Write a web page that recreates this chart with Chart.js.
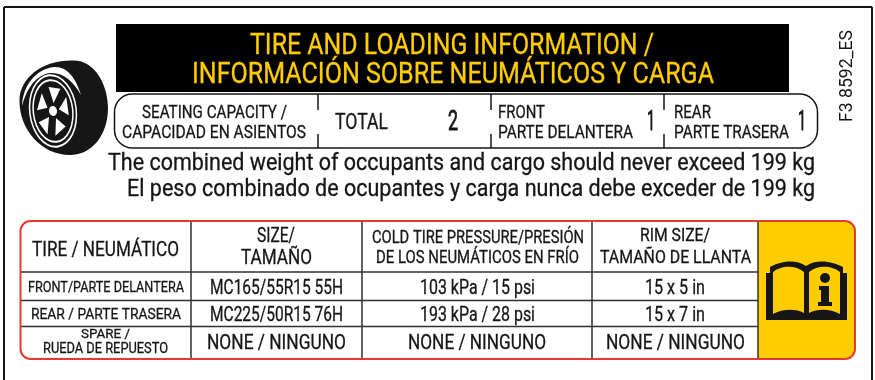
<!DOCTYPE html>
<html>
<head>
<meta charset="utf-8">
<style>
  html, body { margin: 0; padding: 0; background: #fff; }
  canvas { display: block; }
</style>
<script src="https://cdn.jsdelivr.net/npm/chart.js@4"></script>
</head>
<body>
<canvas id="tireLabel" width="875" height="380"></canvas>
<script>
// label content
const titleLines = ['TIRE AND LOADING INFORMATION /', 'INFORMACIÓN SOBRE NEUMÁTICOS Y CARGA'];
const partCode = 'F3 8592_ES';
const seatingLabel = ['SEATING CAPACITY /', 'CAPACIDAD EN ASIENTOS'];
const seatingParts = ['TOTAL', 'FRONT', 'PARTE DELANTERA', 'REAR', 'PARTE TRASERA'];
const seatingCounts = [2, 1, 1];
const maxWeightKg = 199;

// table content
const tableHeaders = [['TIRE / NEUMÁTICO'], ['SIZE/', 'TAMAÑO'],
  ['COLD TIRE PRESSURE/PRESIÓN', 'DE LOS NEUMÁTICOS EN FRÍO'], ['RIM SIZE/', 'TAMAÑO DE LLANTA']];
const tireRows = ['FRONT/PARTE DELANTERA', 'REAR / PARTE TRASERA'];
const spareRow = ['SPARE /', 'RUEDA DE REPUESTO'];
const tireSizes = ['MC165/55R15 55H', 'MC225/50R15 76H'];
const pressureKpa = [103, 193];
const pressurePsi = [15, 28];
const rimDiameter = [15, 15];
const rimWidth = [5, 7];
const noneText = 'NONE / NINGUNO';

// where things go, in label pixels
const columnEdges = [191, 362, 592, 758];
const rowEdges = [272, 300.5, 326.5];
const seatDividers = [318, 491, 664];

const YELLOW = '#ffcc00', RED = '#e63a2e', INK = '#161616', RULE = '#303030';
const FONT = 'Roboto, "Liberation Sans", sans-serif';

// every text is one point: x/y is left end + baseline, x2 the right end it has to reach
function t(text, x, x2, y, size, heavy, color) {
  return { x: x, y: y, x2: x2, text: String(text), size: size, heavy: heavy || 0.3, color: color || INK };
}
const textPoints = [
  t(titleLines[0], 250, 654, 54, 29, 0.3, YELLOW),
  t(titleLines[1], 192, 714, 83, 29, 0.3, YELLOW),
  t(seatingLabel[0], 142, 287, 118, 19),
  t(seatingLabel[1], 122, 306, 138, 19),
  t(seatingParts[0], 335, 388, 129, 22),
  t(seatingCounts[0], 448, 458, 130, 27, 0.8),
  t(seatingParts[1], 498, 545, 118, 19),
  t(seatingParts[2], 498, 633, 138, 19),
  t(seatingCounts[1], 647, 655, 130, 27, 0.8),
  t(seatingParts[3], 674, 711, 118, 19),
  t(seatingParts[4], 674, 789, 138, 19),
  t(seatingCounts[2], 798, 806, 130, 27, 0.8),
  t('The combined weight of occupants and cargo should never exceed ' + maxWeightKg + ' kg', 108, 815, 170, 23),
  t('El peso combinado de ocupantes y carga nunca debe exceder de ' + maxWeightKg + ' kg', 127, 815, 196, 23),
  t(tableHeaders[0][0], 32, 179, 256, 20),
  t(tableHeaders[1][0], 257, 295, 242, 20),
  t(tableHeaders[1][1], 241, 312, 264, 20),
  t(tableHeaders[2][0], 372, 584, 243, 18),
  t(tableHeaders[2][1], 376, 579, 263, 18),
  t(tableHeaders[3][0], 640, 710, 241, 18),
  t(tableHeaders[3][1], 600, 751, 263, 18),
  t(tireRows[0], 28, 184, 292, 15.5),
  t(tireRows[1], 31, 181, 319, 15.5),
  t(spareRow[0], 81, 130, 338, 12.5),
  t(spareRow[1], 43, 168, 353, 14),
  t(tireSizes[0], 210, 343, 294, 20),
  t(tireSizes[1], 210, 343, 321, 20),
  t(noneText, 207, 346, 349, 20),
  t(pressureKpa[0] + ' kPa / ' + pressurePsi[0] + ' psi', 420, 535, 294, 20),
  t(pressureKpa[1] + ' kPa / ' + pressurePsi[1] + ' psi', 420, 535, 321, 20),
  t(noneText, 408, 546, 349, 20),
  t(rimDiameter[0] + ' x ' + rimWidth[0] + ' in', 645, 705, 294, 20),
  t(rimDiameter[1] + ' x ' + rimWidth[1] + ' in', 645, 705, 321, 20),
  t(noneText, 606, 745, 349, 20)
];

// straight rules as line datasets
function rule(x1, y1, x2, y2, color, width) {
  return {
    type: 'scatter', showLine: true, pointRadius: 0, borderColor: color, borderWidth: width,
    data: [{ x: x1, y: y1 }, { x: x2, y: y2 }]
  };
}
const ruleSets = [
  rule(4, 7, 872, 7, INK, 2),
  rule(4, 7, 4, 380, INK, 2),
  rule(872, 7, 872, 380, INK, 2)
];
columnEdges.forEach(x => ruleSets.push(rule(x, 221, x, 359, RULE, 1.5)));
rowEdges.forEach(y => ruleSets.push(rule(20, y, 758, y, RULE, 1.5)));
seatDividers.forEach(x => {
  ruleSets.push(rule(x, 94, x, 110, INK, 1.5));
  ruleSets.push(rule(x, 134, x, 148, INK, 1.5));
});

function drawTire(ctx, X, Y) {
  const ell = (x, y, rx, ry, rot, color) => {
    ctx.fillStyle = color;
    ctx.beginPath();
    ctx.ellipse(X(x), Y(y), rx, ry, rot, 0, Math.PI * 2);
    ctx.fill();
  };
  const tilt = -0.12;
  // tread and sidewall as one blob
  ctx.fillStyle = INK;
  ctx.beginPath();
  ctx.moveTo(X(73), Y(60.5));
  ctx.bezierCurveTo(X(95), Y(60), X(108), Y(85), X(108), Y(108));
  ctx.bezierCurveTo(X(108), Y(135), X(92), Y(155), X(70), Y(155));
  ctx.bezierCurveTo(X(42), Y(155), X(19), Y(130), X(19.5), Y(100));
  ctx.bezierCurveTo(X(20), Y(78), X(42), Y(60), X(73), Y(60.5));
  ctx.fill();
  // white crescent at the shoulder
  ctx.fillStyle = '#fff';
  ctx.beginPath();
  ctx.moveTo(X(22), Y(106));
  ctx.bezierCurveTo(X(23), Y(85), X(36), Y(69), X(54), Y(67));
  ctx.bezierCurveTo(X(67), Y(66), X(76), Y(78), X(81), Y(95));
  ctx.bezierCurveTo(X(73), Y(81), X(63), Y(72), X(50), Y(73));
  ctx.bezierCurveTo(X(36), Y(75), X(27), Y(88), X(22), Y(106));
  ctx.fill();
  // rim rings
  ell(53, 111, 24, 37, tilt, '#fff');
  ell(53, 111, 22.5, 35, tilt, INK);
  ell(53, 111, 20.5, 32, tilt, '#fff');
  ell(53, 111, 19, 30, tilt, INK);
  // five spokes
  ctx.fillStyle = '#fff';
  for (let i = 0; i < 5; i++) {
    const a = -Math.PI / 2 + i * 2 * Math.PI / 5 + 0.1;
    const a1 = a - 0.38, a2 = a + 0.38;
    ctx.beginPath();
    ctx.moveTo(X(53 + 6 * Math.cos(a)), Y(111 + 8 * Math.sin(a)));
    ctx.lineTo(X(53 + 16 * Math.cos(a1)), Y(111 + 25 * Math.sin(a1)));
    ctx.lineTo(X(53 + 16 * Math.cos(a2)), Y(111 + 25 * Math.sin(a2)));
    ctx.closePath();
    ctx.fill();
  }
  ell(53, 111, 4, 5, tilt, '#fff');
}

function drawBook(ctx, X, Y) {
  const path = pts => {
    ctx.beginPath();
    ctx.moveTo(X(pts[0][0]), Y(pts[0][1]));
    pts.slice(1).forEach(p => {
      if (p.length === 2) ctx.lineTo(X(p[0]), Y(p[1]));
      else ctx.bezierCurveTo(X(p[0]), Y(p[1]), X(p[2]), Y(p[3]), X(p[4]), Y(p[5]));
    });
    ctx.closePath();
    ctx.fill();
  };
  ctx.fillStyle = INK;
  path([[766, 273], [770, 273], [770, 267], [778, 262, 795, 258, 806, 266], [817, 258, 834, 262, 843, 267],
    [843, 273], [847, 273], [847, 320], [766, 320]]);
  ctx.fillStyle = YELLOW;
  path([[773, 272], [780, 266, 795, 264, 804, 272], [804, 313], [795, 308, 782, 309, 773, 314]]);
  path([[809, 272], [818, 264, 833, 266, 840, 272], [840, 314], [831, 309, 818, 308, 809, 313]]);
  // the i
  ctx.fillStyle = INK;
  ctx.beginPath();
  ctx.arc(X(825), Y(278), 5, 0, Math.PI * 2);
  ctx.fill();
  path([[819, 286], [829, 286], [829, 302], [832, 302], [832, 306], [818, 306], [818, 302], [821, 302], [821, 290], [819, 290]]);
}

const labelPlugin = {
  id: 'labelPlugin',
  beforeDatasetsDraw(chart) {
    const ctx = chart.ctx;
    const X = v => chart.scales.x.getPixelForValue(v);
    const Y = v => chart.scales.y.getPixelForValue(v);
    ctx.save();
    // title banner
    ctx.fillStyle = '#000';
    ctx.fillRect(X(116), Y(24), X(789) - X(116), Y(92) - Y(24));
    // seating pill
    ctx.strokeStyle = INK;
    ctx.lineWidth = 1.5;
    ctx.beginPath();
    ctx.roundRect(X(114.5), Y(94), X(817.5) - X(114.5), Y(148) - Y(94), 18);
    ctx.stroke();
    // yellow info cell with rounded right corners
    ctx.fillStyle = YELLOW;
    ctx.beginPath();
    ctx.roundRect(X(758), Y(221), X(855) - X(758), Y(359) - Y(221), [0, 10, 10, 0]);
    ctx.fill();
    drawTire(ctx, X, Y);
    drawBook(ctx, X, Y);
    ctx.restore();
  },
  afterDatasetsDraw(chart) {
    const ctx = chart.ctx;
    const X = v => chart.scales.x.getPixelForValue(v);
    const Y = v => chart.scales.y.getPixelForValue(v);
    ctx.save();
    // red table frame on top of the rules
    ctx.strokeStyle = RED;
    ctx.lineWidth = 2;
    ctx.beginPath();
    ctx.roundRect(X(20.5), Y(221), X(855) - X(20.5), Y(359) - Y(221), 10);
    ctx.stroke();
    // texts, squeezed to the width they have on the label
    ctx.textBaseline = 'alphabetic';
    ctx.textAlign = 'left';
    chart.data.datasets[0].data.forEach(p => {
      ctx.font = p.size + 'px ' + FONT;
      ctx.fillStyle = p.color;
      ctx.strokeStyle = p.color;
      ctx.lineWidth = p.heavy;
      const w = ctx.measureText(p.text).width;
      ctx.save();
      ctx.translate(X(p.x), Y(p.y));
      ctx.scale((X(p.x2) - X(p.x)) / w, 1);
      ctx.fillText(p.text, 0, 0);
      ctx.strokeText(p.text, 0, 0);
      ctx.restore();
    });
    // part code runs up the right side
    ctx.font = '18px ' + FONT;
    ctx.fillStyle = INK;
    const w = ctx.measureText(partCode).width;
    ctx.translate(X(852), Y(122));
    ctx.rotate(-Math.PI / 2);
    ctx.scale(92 / w, 1);
    ctx.fillText(partCode, 0, 0);
    ctx.restore();
  }
};

new Chart(document.getElementById('tireLabel'), {
  type: 'scatter',
  data: {
    datasets: [{ label: 'texts', pointRadius: 0, data: textPoints }].concat(ruleSets)
  },
  options: {
    responsive: false,
    animation: false,
    layout: { padding: 0 },
    plugins: { legend: { display: false }, tooltip: { enabled: false } },
    scales: {
      x: { type: 'linear', min: 0, max: 875, display: false },
      y: { type: 'linear', min: 0, max: 380, reverse: true, display: false }
    }
  },
  plugins: [labelPlugin]
});
</script>
</body>
</html>
